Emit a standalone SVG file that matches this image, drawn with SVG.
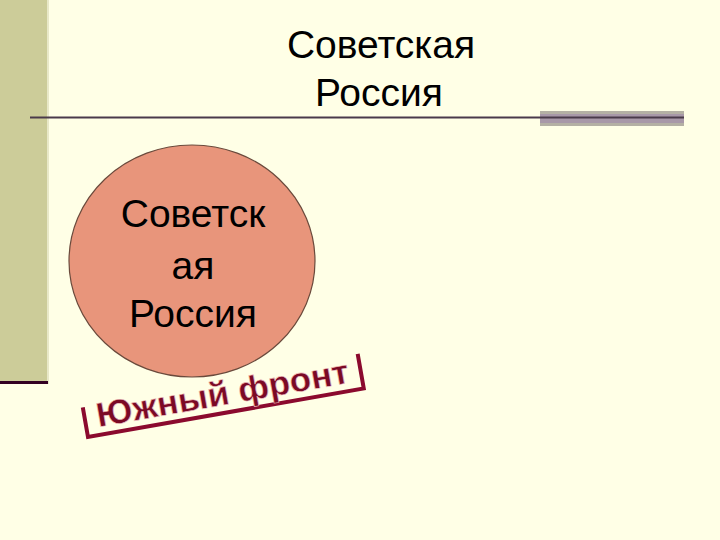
<svg xmlns="http://www.w3.org/2000/svg" width="720" height="540" viewBox="0 0 720 540">
<style>
.t{font-family:"Liberation Sans",Arial,sans-serif;fill:#000;text-anchor:middle}
</style>
<rect width="720" height="540" fill="#FFFFE6"/>
<g id="sidebar">
<rect x="0" y="0" width="47" height="384" fill="#CCCC99"/>
<rect x="47" y="0" width="2" height="384" fill="#E8E8C8"/>
<rect x="0" y="381" width="48" height="3" fill="#330022"/>
</g>
<g id="title">
<text class="t" x="381" y="58" font-size="39">Советская</text>
<text class="t" x="379" y="106" font-size="39">Россия</text>
</g>
<g id="rule">
<rect x="540" y="111" width="144" height="15" fill="#B4B0A4"/>
<rect x="540" y="114" width="144" height="9" fill="#A898A8"/>
<line x1="30" y1="117.5" x2="684" y2="117.5" stroke="#4A3A4A" stroke-width="2"/>
</g>
<g id="circle">
<ellipse cx="192" cy="261" rx="123" ry="116" fill="#E8957B" stroke="#6A4A3C" stroke-width="1.2"/>
<text class="t" x="193" y="227" font-size="39">Советск</text>
<text class="t" x="193" y="279" font-size="39">ая</text>
<text class="t" x="193" y="327" font-size="39">Россия</text>
</g>
<g id="front" transform="translate(88,437) rotate(-10)">
<path d="M0,-30 V0 H280 V-35" fill="none" stroke="#8B0A2E" stroke-width="4" stroke-linejoin="miter"/>
<text x="12" y="-8" font-family="'Liberation Sans',Arial,sans-serif" font-weight="bold" font-size="34" fill="#7A0A25" stroke="#F0C0C0" stroke-width="0.6" textLength="256" lengthAdjust="spacingAndGlyphs">Южный фронт</text>
</g>
</svg>
